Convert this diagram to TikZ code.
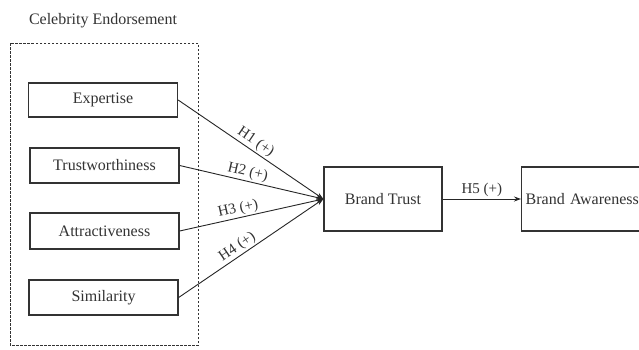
\documentclass[tikz,border=0pt]{standalone}
\usepackage{fontspec}
\setmainfont{Liberation Serif}
\usetikzlibrary{arrows.meta}
\begin{document}
\begin{tikzpicture}[x=1pt,y=-1pt,
  every node/.style={font=\fontsize{16}{19}\selectfont, text=black!80},
  box/.style={draw=black!80, line width=1.3pt, minimum width=149pt, minimum height=35pt, inner sep=0pt},
  bigbox/.style={draw=black!80, line width=1.3pt, minimum height=64pt, inner sep=0pt},
  conn/.style={draw=black!85, line width=0.9pt, -{Stealth[length=7pt,width=5pt]}},
  hlab/.style={sloped, above=1.5pt, inner sep=0pt, font=\fontsize{15}{18}\selectfont}]
\useasboundingbox (0,0) rectangle (639,349);
\clip (0,0) rectangle (639,349);
\fill[white] (0,0) rectangle (639,349);
\node (title) at (103,21) {Celebrity Endorsement};
\draw[black!80, line width=0.8pt, dash pattern=on 2.5pt off 1.5pt] (10,43) rectangle (198,345);
\node[box, minimum height=34pt] (exp) at (103,100) {Expertise};
\node[box] (tru) at (104.5,165.5) {Trustworthiness};
\node[box, minimum height=36pt] (att) at (104.5,231) {Attractiveness};
\node[box] (sim) at (103.5,297.5) {Similarity};
\node[bigbox, minimum width=118pt] (bt) at (383,199) {Brand Trust};
\node[bigbox, anchor=west, text width=140pt, align=left, inner xsep=4pt] (ba) at (521,199) {Brand Awareness};
\draw[conn] (exp.east) -- node[hlab, pos=0.5] {H1 (+)} (bt.west);
\draw[conn] (tru.east) -- node[hlab, pos=0.46] {H2 (+)} (bt.west);
\draw[conn] (att.east) -- node[hlab, pos=0.42] {H3 (+)} (bt.west);
\draw[conn] (sim.east) -- node[hlab, pos=0.44] {H4 (+)} (bt.west);
\draw[conn] (bt.east) -- node[above, inner sep=2pt, font=\fontsize{15}{18}\selectfont] {H5 (+)} (ba.west);
\end{tikzpicture}
\end{document}
